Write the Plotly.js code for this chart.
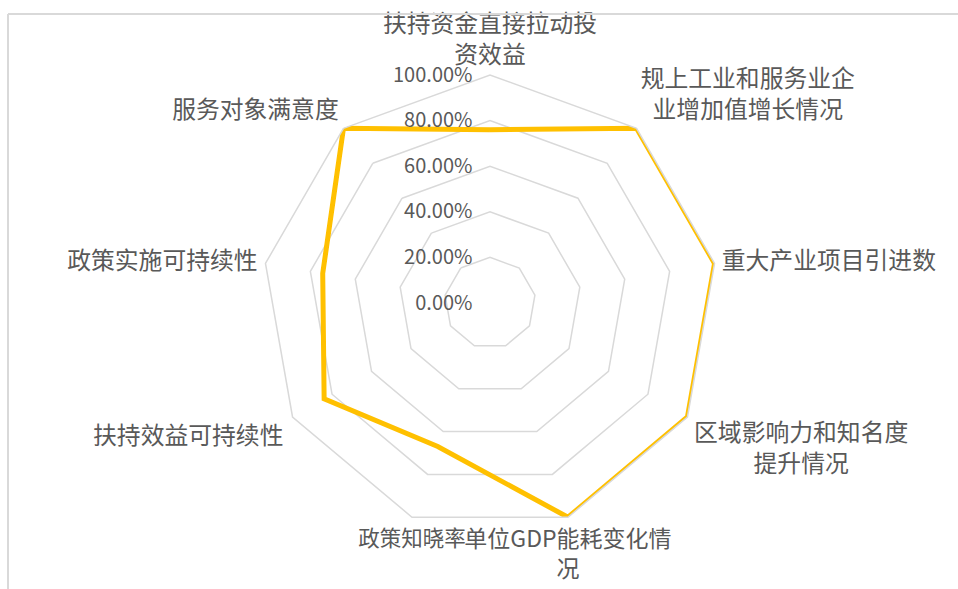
<!DOCTYPE html>
<html>
<head>
<meta charset="utf-8">
<script src="https://cdn.plot.ly/plotly-3.0.1.min.js"></script>
<style>html,body{margin:0;padding:0;background:#fff;}#chart{width:958px;height:589px;}</style>
</head>
<body>
<div id="chart"></div>
<script>
// Categories (clockwise from top)
const categories = [
  '扶持资金直接拉动投资效益',
  '规上工业和服务业企业增加值增长情况',
  '重大产业项目引进数',
  '区域影响力和知名度提升情况',
  '单位GDP能耗变化情况',
  '政策知晓率',
  '扶持效益可持续性',
  '政策实施可持续性',
  '服务对象满意度'
];
// Displayed (wrapped) category labels; wide spaces centre the second lines
const categoryLabels = [
  '扶持资金直接拉动投<br>资效益',
  '规上工业和服务业企<br>\u2002业增加值增长情况',
  '重大产业项目引进数',
  '区域影响力和知名度<br>\u3000\u3000\u2002提升情况',
  '单位GDP能耗变化情<br>况',
  '政策知晓率',
  '扶持效益可持续性',
  '政策实施可持续性',
  '服务对象满意度'
];
// Series values (share)
const values = [0.76, 1.00, 1.00, 1.00, 1.00, 0.67, 0.84, 0.745, 1.00];
// Radial axis ticks
const radialTicks = [0, 0.2, 0.4, 0.6, 0.8, 1.0];

// Label placement (layout settings, not data)
const labelPositions = ['top center','top right','middle right','bottom right','bottom center','bottom center','bottom left','middle left','top left'];
const labelPad = [8, 5, 10, 9, 19, 19, 13, 11, 6];   // invisible marker sizes -> text offset
const labelSizes = [23.8, 23.8, 23.8, 23.8, 23, 21.5, 23.8, 23.8, 23.8];

const FONT = '"Noto Sans CJK SC", "Noto Sans", sans-serif';
const TEXT = '#595959';
const GRID = '#d9d9d9';

const data = [
  {
    type: 'scatterpolar',
    r: values.concat([values[0]]),
    theta: categories.concat([categories[0]]),
    mode: 'lines',
    line: {color: '#FFC000', width: 5},
    hoverinfo: 'skip',
    showlegend: false
  },
  {
    type: 'scatterpolar',
    r: categories.map(() => 1),
    theta: categories,
    mode: 'markers+text',
    marker: {size: labelPad, color: 'rgba(0,0,0,0)', line: {width: 0}},
    text: categoryLabels,
    textposition: labelPositions,
    textfont: {family: FONT, size: labelSizes, color: TEXT},
    cliponaxis: false,
    hoverinfo: 'skip',
    showlegend: false
  }
];

const layout = {
  width: 958,
  height: 589,
  margin: {l: 0, r: 0, t: 0, b: 0},
  paper_bgcolor: '#ffffff',
  showlegend: false,
  font: {family: FONT, color: TEXT},
  polar: {
    domain: {x: [262/958, 718/958], y: [1 - 531/589, 1 - 75/589]},
    gridshape: 'linear',
    bgcolor: '#ffffff',
    angularaxis: {
      type: 'category',
      categoryarray: categories,
      rotation: 90,
      direction: 'clockwise',
      showgrid: false,
      showticklabels: false,
      ticks: '',
      showline: true,
      linecolor: GRID,
      linewidth: 1.5
    },
    radialaxis: {
      range: [0, 1],
      tickvals: radialTicks,
      tickformat: '.2%',
      angle: 90,
      tickangle: 90,
      side: 'counterclockwise',
      showline: false,
      gridcolor: GRID,
      gridwidth: 1.5,
      ticks: 'outside',
      ticklen: 10,
      tickcolor: 'rgba(0,0,0,0)',
      tickfont: {family: FONT, size: 20, color: TEXT}
    }
  },
  shapes: [
    {type: 'line', xref: 'paper', yref: 'paper', x0: 8/958, x1: 1, y0: 1 - 14/589, y1: 1 - 14/589, line: {color: GRID, width: 2}},
    {type: 'line', xref: 'paper', yref: 'paper', x0: 8/958, x1: 8/958, y0: 0, y1: 1 - 14/589, line: {color: GRID, width: 2}}
  ]
};

Plotly.newPlot('chart', data, layout, {displayModeBar: false, staticPlot: true});
</script>
</body>
</html>
